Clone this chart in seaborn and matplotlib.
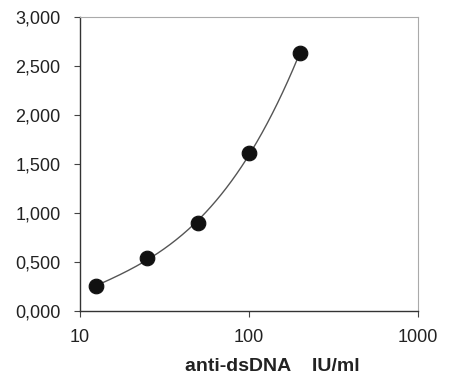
import numpy as np
import pandas as pd
import seaborn as sns
import matplotlib.pyplot as plt
from matplotlib.ticker import FuncFormatter, FixedLocator, NullLocator

# data
conc = [12.5, 25, 50, 100, 200]           # anti-dsDNA IU/ml
od = [0.255, 0.54, 0.90, 1.61, 2.63]      # absorbance
y_ticks = [0.0, 0.5, 1.0, 1.5, 2.0, 2.5, 3.0]
x_ticks = [10, 100, 1000]
x_tick_labels = ["10", "100", "1000"]

sns.set_style("white")
plt.rcParams['font.family'] = ['Liberation Sans', 'DejaVu Sans']

df = pd.DataFrame({"conc": conc, "od": od})

# smooth fitted curve (cubic in log concentration)
coef = np.polyfit(np.log10(df["conc"]), df["od"], 3)
lx = np.linspace(np.log10(min(conc)), np.log10(max(conc)), 200)
fit = pd.DataFrame({"conc": 10 ** lx, "od": np.polyval(coef, lx)})

fig, ax = plt.subplots(figsize=(4.5, 3.76), dpi=100)
fig.subplots_adjust(left=0.178, right=0.929, top=0.955, bottom=0.173)

sns.lineplot(data=fit, x="conc", y="od", ax=ax, color="#555555", linewidth=1.0)
sns.scatterplot(data=df, x="conc", y="od", ax=ax, color="#111111", s=110,
                edgecolor="#111111", zorder=3)

ax.set_xscale("log")
ax.set_xlim(10, 1000)
ax.set_ylim(0, 3)
ax.xaxis.set_major_locator(FixedLocator(x_ticks))
ax.xaxis.set_minor_locator(NullLocator())
ax.set_xticklabels(x_tick_labels)
ax.set_yticks(y_ticks)
ax.yaxis.set_major_formatter(FuncFormatter(lambda v, p: f"{v:.3f}".replace(".", ",")))

ax.tick_params(axis="both", direction="out", length=4, width=0.8, color="#444444",
               labelsize=13, labelcolor="#222222", left=True, bottom=True)
ax.tick_params(axis="x", pad=9)
ax.tick_params(axis="y", pad=10)

for side in ["left", "bottom"]:
    ax.spines[side].set_color("#333333")
    ax.spines[side].set_linewidth(1.0)
for side in ["top", "right"]:
    ax.spines[side].set_color("#aaaaaa")
    ax.spines[side].set_linewidth(0.8)

ax.set_xlabel("anti-dsDNA    IU/ml", fontsize=14, fontweight="bold", color="#222222")
ax.xaxis.set_label_coords(0.568, -0.16)
ax.set_ylabel("")

fig.savefig("out.png", dpi=100)
